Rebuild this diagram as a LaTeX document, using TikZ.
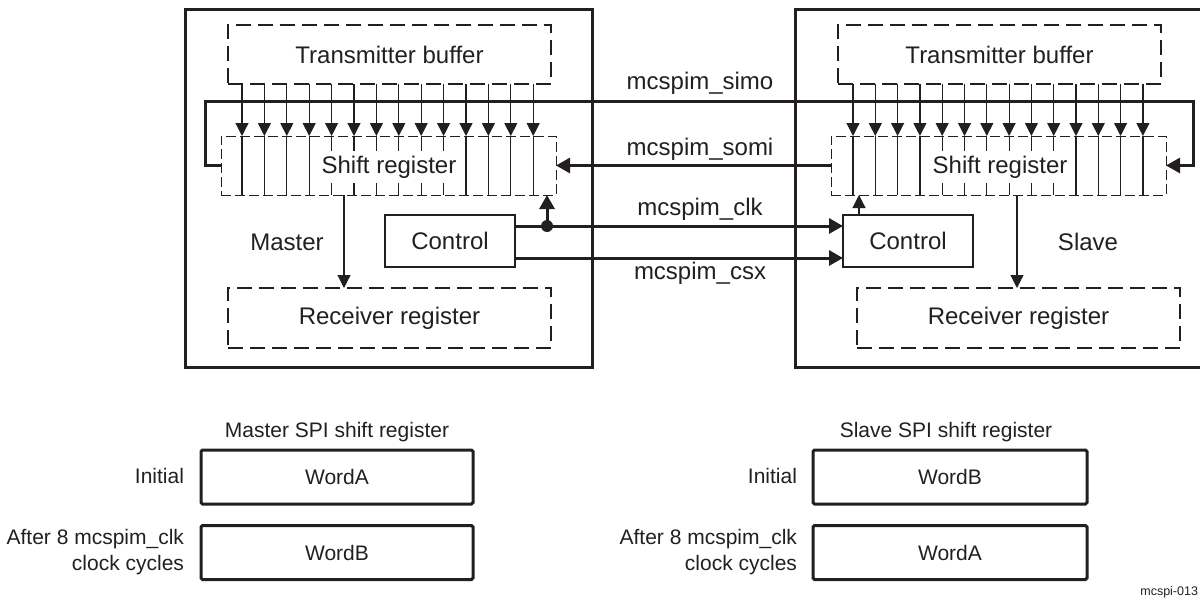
\documentclass[tikz,border=0pt]{standalone}
\usepackage{fontspec}
\setmainfont{Liberation Sans}
\usetikzlibrary{arrows.meta}
\definecolor{ink}{HTML}{231F20}
\begin{document}
\begin{tikzpicture}[x=1pt,y=-1pt, color=ink,
  every node/.style={inner sep=0pt, outer sep=0pt},
  mainbox/.style={draw, line width=3pt},
  dashbox/.style={draw, line width=2pt, dash pattern=on 15pt off 7pt, font=\fontsize{24}{28}\selectfont},
  regbox/.style={draw, line width=1pt, dash pattern=on 10pt off 4pt},
  ctlbox/.style={draw, line width=2pt, minimum width=130pt, minimum height=52pt, font=\fontsize{24}{28}\selectfont},
  wordbox/.style={draw, line width=3pt, rounded corners=1.5pt, minimum width=272pt, minimum height=54pt, font=\fontsize{21}{26}\selectfont},
  lbl/.style={font=\fontsize{24}{28}\selectfont},
  sml/.style={font=\fontsize{21}{26}\selectfont},
  thinline/.style={line width=1.2pt},
  thinarrow/.style={line width=1.2pt, -{Triangle[length=13pt,width=13pt]}},
  wire/.style={line width=3pt},
  wirearrow/.style={line width=3pt, -{Triangle[length=14pt,width=15pt]}},
]
\useasboundingbox (0,0) rectangle (1200,605);
\clip (0,0) rectangle (1200,605);

% outer boxes
\node[mainbox, minimum width=407pt, minimum height=358pt] (mbox) at (388.5,188) {};
\node[mainbox, minimum width=420pt, minimum height=358pt] (sbox) at (1005,188) {};

% master internals
\node[dashbox, minimum width=323pt, minimum height=59pt] (mtx) at (389.5,54.5) {Transmitter buffer};
\node[regbox, minimum width=335pt, minimum height=59pt] (mreg) at (388.5,165.5) {};
\node[dashbox, minimum width=323pt, minimum height=60pt] (mrx) at (389.5,318) {Receiver register};
\node[ctlbox] (mctl) at (450,241) {Control};
\node[lbl] (mlab) at (287,242) {Master};
\foreach \i in {0,...,13} {
  \coordinate (mc\i) at ({242+22.4*\i},0);
  \draw[thinline] (mc\i |- mreg.north) -- (mc\i |- mreg.south);
  \draw[thinarrow] (mc\i |- mtx.south) -- (mc\i |- mreg.north);
}
\node[lbl, fill=white, inner xsep=3pt, inner ysep=5pt] (mshift) at (389,167) {Shift register};
\coordinate (mdn) at (344,0);
\draw[thinarrow] (mdn |- mreg.south) -- (mdn |- mrx.north);

% slave internals
\node[dashbox, minimum width=323pt, minimum height=59pt] (stx) at (999.5,54.5) {Transmitter buffer};
\node[regbox, minimum width=335pt, minimum height=59pt] (sreg) at (998.5,165.5) {};
\node[dashbox, minimum width=323pt, minimum height=60pt] (srx) at (1018.5,318) {Receiver register};
\node[ctlbox] (sctl) at (908,241) {Control};
\node[lbl] (slab) at (1088,242) {Slave};
\foreach \i in {0,...,13} {
  \coordinate (sc\i) at ({853+22.3*\i},0);
  \draw[thinline] (sc\i |- sreg.north) -- (sc\i |- sreg.south);
  \draw[thinarrow] (sc\i |- stx.south) -- (sc\i |- sreg.north);
}
\node[lbl, fill=white, inner xsep=3pt, inner ysep=5pt] (sshift) at (1000,167) {Shift register};
\coordinate (sdn) at (1017,0);
\draw[thinarrow] (sdn |- sreg.south) -- (sdn |- srx.north);
\coordinate (sup) at (859,0);
\draw[thinarrow] (sup |- sctl.north) -- (sup |- sreg.south);

% wires
\coordinate (simoL) at (205,101);
\coordinate (simoR) at (1193,101);
\draw[wirearrow] (mreg.west) -| (simoL) -- (simoR) |- (sreg.east);
\draw[wirearrow] (sreg.west) -- (mreg.east);
\coordinate (clky) at (0,226);
\coordinate (csxy) at (0,258);
\draw[wirearrow] (mctl.east |- clky) -- (sctl.west |- clky);
\draw[wirearrow] (mctl.east |- csxy) -- (sctl.west |- csxy);
\node[circle, fill, minimum size=12pt] (dot) at (547,226) {};
\draw[wirearrow] (dot.center) -- (dot |- mreg.south);

% wire labels
\node[lbl, anchor=base] (simo) at (700,89) {mcspim\_simo};
\node[lbl, anchor=base] (somi) at (700,155) {mcspim\_somi};
\node[lbl, anchor=base] (clk) at (700,215) {mcspim\_clk};
\node[lbl, anchor=base] (csx) at (700,279) {mcspim\_csx};

% bottom: master
\node[sml, anchor=base] (mtitle) at (337,437) {Master SPI shift register};
\node[wordbox] (mwa) at (337,477) {WordA};
\node[wordbox] (mwb) at (337,552.5) {WordB};
\node[sml, anchor=base east] (minit) at (184,483) {Initial};
\node[sml, anchor=east, align=right] (mafter) at (184,552) {After 8 mcspim\_clk\\clock cycles};

% bottom: slave
\node[sml, anchor=base] (stitle) at (946,437) {Slave SPI shift register};
\node[wordbox, minimum width=274pt] (swb) at (950,477) {WordB};
\node[wordbox, minimum width=274pt] (swa) at (950,552.5) {WordA};
\node[sml, anchor=base east] (sinit) at (797,483) {Initial};
\node[sml, anchor=east, align=right] (safter) at (797,552) {After 8 mcspim\_clk\\clock cycles};

\node[font=\fontsize{12.5}{15}\selectfont, anchor=base east] (fig) at (1198,595) {mcspi-013};
\end{tikzpicture}
\end{document}
